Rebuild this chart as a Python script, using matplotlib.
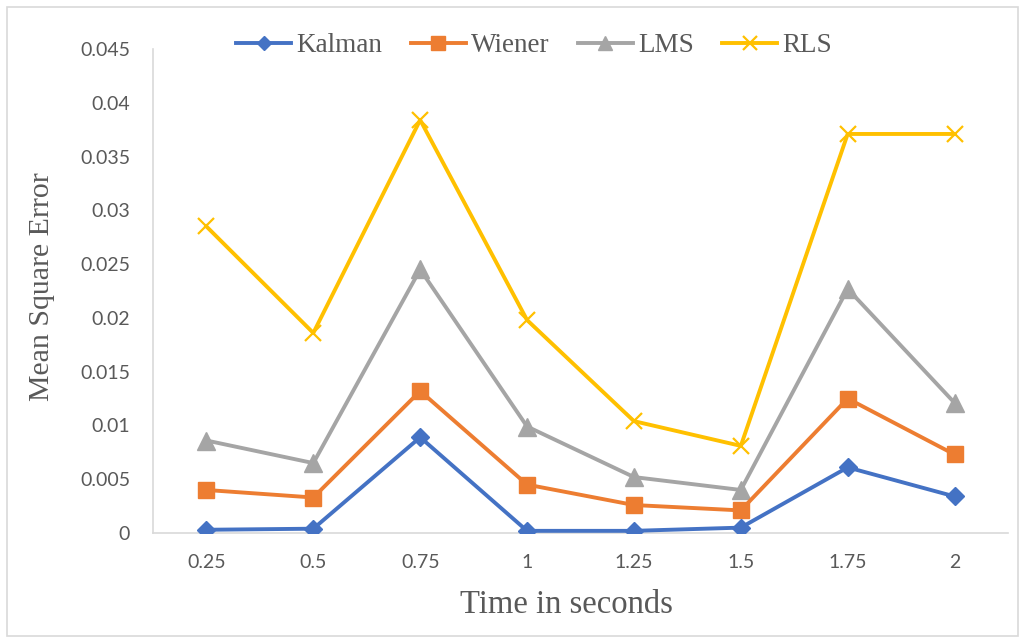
import matplotlib
matplotlib.use("Agg")
import matplotlib.pyplot as plt
from matplotlib.patches import Rectangle

# Data
times = ["0.25", "0.5", "0.75", "1", "1.25", "1.5", "1.75", "2"]
kalman = [0.0003, 0.0004, 0.0089, 0.0002, 0.0002, 0.0005, 0.0061, 0.0034]
wiener = [0.0040, 0.0033, 0.0132, 0.0045, 0.0026, 0.0021, 0.0125, 0.0073]
lms = [0.0086, 0.0065, 0.0245, 0.0099, 0.0052, 0.0040, 0.0227, 0.0121]
rls = [0.0285, 0.0186, 0.0384, 0.0198, 0.0104, 0.0081, 0.0371, 0.0371]
y_ticks = [0, 0.005, 0.01, 0.015, 0.02, 0.025, 0.03, 0.035, 0.04, 0.045]
y_tick_labels = ["0", "0.005", "0.01", "0.015", "0.02", "0.025", "0.03", "0.035", "0.04", "0.045"]

W, H = 1023, 640
fig = plt.figure(figsize=(W / 100, H / 100), dpi=100)
fig.patch.set_facecolor("white")

# outer chart frame
fig.patches.append(Rectangle((7 / W, 4 / H), 1011 / W, 629 / H, transform=fig.transFigure,
                             fill=False, edgecolor="#D9D9D9", linewidth=1.2))

left, right, top, bottom = 153, 1008, 49, 533
ax = fig.add_axes([left / W, 1 - bottom / H, (right - left) / W, (bottom - top) / H])

x = list(range(len(times)))
lw = 2.8
ax.plot(x, kalman, color="#4472C4", lw=lw, marker="D", markersize=9.5, label="Kalman", zorder=4)
ax.plot(x, wiener, color="#ED7D31", lw=lw, marker="s", markersize=12, label="Wiener", zorder=3)
ax.plot(x, lms, color="#A5A5A5", lw=lw, marker="^", markersize=12.5, label="LMS", zorder=2)
ax.plot(x, rls, color="#FFC000", lw=lw, marker="x", markersize=12, markeredgewidth=1.6,
        label="RLS", zorder=1)

ax.set_xlim(-0.5, len(times) - 0.5)
ax.set_ylim(0, 0.045)
ax.set_xticks(x)
ax.set_xticklabels(times, fontfamily="Lato", fontsize=14, color="#595959")
ax.set_yticks(y_ticks)
ax.set_yticklabels(y_tick_labels, fontfamily="Lato", fontsize=14, color="#595959")
ax.tick_params(axis="both", length=0)
ax.tick_params(axis="x", pad=15)
ax.tick_params(axis="y", pad=16.5)

for side in ("top", "right"):
    ax.spines[side].set_visible(False)
for side in ("left", "bottom"):
    ax.spines[side].set_color("#D9D9D9")
    ax.spines[side].set_linewidth(1.2)

fig.text(42 / W, 1 - 287 / H, "Mean Square Error", rotation=90, ha="center", va="center",
         fontfamily="Liberation Serif", fontsize=21.5, color="#595959")
fig.text(566 / W, 1 - 605 / H, "Time in seconds", ha="center", va="center",
         fontfamily="Liberation Serif", fontsize=23.5, color="#595959")

fig.legend(loc="center", bbox_to_anchor=(534 / W, 1 - 46 / H), ncol=4, frameon=False,
           prop={"family": "Liberation Serif", "size": 19.5}, handlelength=2.04,
           handletextpad=0.19, columnspacing=1.04, labelcolor="#595959",
           borderpad=0.2, markerscale=0.8)

fig.savefig("out.png", dpi=100)
